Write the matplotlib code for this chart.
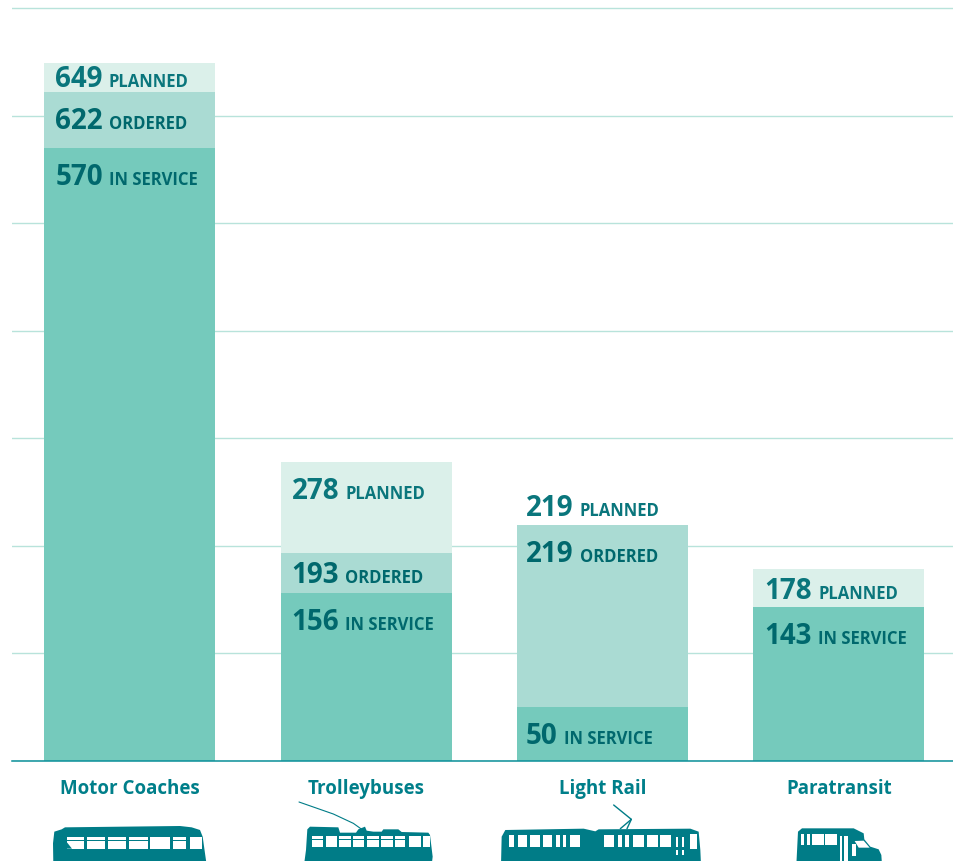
import numpy as np
import matplotlib
matplotlib.use('Agg')
import matplotlib.pyplot as plt
from matplotlib.patches import Polygon, Rectangle

plt.rcParams['font.family'] = ['Open Sans', 'DejaVu Sans']

categories = ['Motor Coaches', 'Trolleybuses', 'Light Rail', 'Paratransit']
in_service = [570, 156, 50, 143]
ordered = [622, 193, 219, np.nan]
planned = [649, 278, 219, 178]
grid_ticks = [0, 100, 200, 300, 400, 500, 600, 700]

# label baseline distance below the top of each bar segment, in pixels
service_drop = [37, 37, 37, 37]
ordered_drop = [37, 30, 37, 0]
planned_drop = [24, 37, -9, 30]
number_inset = [11, 11, 9, 11]

light = '#dbf0ea'
mid = '#aadbd3'
base = '#75cabc'
text_dark = '#00686d'
text_light = '#0a767c'
label_col = '#007f8a'
icon_col = '#007c87'

W, H = 954, 861
px = 0.72  # pixels to points at dpi 100
fig = plt.figure(figsize=(W / 100, H / 100), dpi=100)
base_y = 760.5
ax = fig.add_axes([12 / W, 1 - base_y / H, (W - 12) / W, base_y / H])

x = np.arange(len(categories))
ax.bar(x, planned, width=0.7236, color=light, zorder=2)
ax.bar(x, ordered, width=0.7236, color=mid, zorder=3)
ax.bar(x, in_service, width=0.7236, color=base, zorder=4)

ax.set_xlim(-0.499, 3.487)
ax.set_ylim(0, 707.8)
ax.set_yticks(grid_ticks)
ax.set_yticklabels([])
ax.grid(axis='y', color='#b8e3db', linewidth=1.0)
ax.set_axisbelow(True)
ax.set_xticks(x)
ax.set_xticklabels(categories, fontsize=13.5, fontweight='bold', color=label_col)
ax.tick_params(axis='both', length=0)
ax.tick_params(axis='x', pad=13)
for s in ['top', 'left', 'right']:
    ax.spines[s].set_visible(False)
ax.spines['bottom'].set_color('#0a8f99')
ax.spines['bottom'].set_linewidth(1.1)
ax.spines['bottom'].set_zorder(6)

renderer = fig.canvas.get_renderer()


def bar_label(i, value, word, drop, col):
    left = i - 0.7236 / 2
    num = ax.annotate(str(value), xy=(left, value), xytext=(number_inset[i] * px, -drop * px),
                      textcoords='offset points', fontsize=20, fontweight='bold',
                      color=col, va='baseline', ha='left', zorder=7)
    w = num.get_window_extent(renderer).width
    ax.annotate(word, xy=(left, value), xytext=((number_inset[i] + w + 6) * px, -drop * px),
                textcoords='offset points', fontsize=12, fontweight='bold',
                color=col, va='baseline', ha='left', zorder=7)


for i in range(len(categories)):
    bar_label(i, in_service[i], 'IN SERVICE', service_drop[i], text_dark)
    if not np.isnan(ordered[i]):
        bar_label(i, int(ordered[i]), 'ORDERED', ordered_drop[i], text_dark)
    bar_label(i, planned[i], 'PLANNED', planned_drop[i], text_light)

# vehicle silhouettes, traced in pixels of the page
ic = fig.add_axes([0, 0, 1, 1], zorder=10)
ic.set_xlim(0, W)
ic.set_ylim(H, 0)
ic.axis('off')
ic.patch.set_alpha(0)


def shape(points, off, color=icon_col):
    pts = [(off + a / 3, 740 + b / 3) for a, b in points]
    ic.add_patch(Polygon(pts, closed=True, facecolor=color, edgecolor='none'))


def windows(spans, top, bottom, off):
    for a, b in spans:
        ic.add_patch(Rectangle((off + a / 3, 740 + top / 3), (b - a) / 3, (bottom - top) / 3,
                               facecolor='white', edgecolor='none'))


def pole(points, off, lw=0.8):
    ic.plot([off + a / 3 for a, b in points], [740 + b / 3 for a, b in points],
            color=icon_col, lw=lw, solid_capstyle='round')


# motor coach
shape([(160, 375), (159, 310), (163, 275), (185, 268), (195, 262), (540, 258), (575, 262),
       (600, 270), (608, 290), (615, 340), (620, 375)], 0)
windows([(200, 252), (260, 315), (323, 378), (387, 443), (451, 510), (518, 557), (570, 605)], 292, 326, 0)
ic.add_patch(Polygon([(200 / 3, 740 + 306 / 3), (216 / 3, 740 + 326 / 3), (200 / 3, 740 + 326 / 3)],
                     facecolor=icon_col, edgecolor='none'))
for a, b in [(200, 252), (260, 315), (323, 378), (387, 443), (518, 557)]:
    ic.add_patch(Rectangle((a / 3, 740 + 300 / 3), (b - a) / 3, 1.2, facecolor=icon_col, edgecolor='none'))

# trolleybus
shape([(912, 375), (918, 330), (922, 268), (930, 260), (1015, 262), (1020, 278), (1068, 278),
       (1075, 268), (1095, 260), (1100, 272), (1120, 275), (1145, 275), (1150, 268), (1195, 268),
       (1205, 276), (1285, 278), (1290, 285), (1298, 350), (1295, 375)], 0)
windows([(936, 970), (977, 1010), (1017, 1052), (1058, 1093), (1100, 1136), (1143, 1178),
         (1185, 1215), (1228, 1262), (1268, 1290)], 288, 320, 0)
for a, b in [(936, 970), (1017, 1052), (1058, 1093), (1100, 1136), (1143, 1178), (1185, 1215)]:
    ic.add_patch(Rectangle((a / 3, 740 + 297 / 3), (b - a) / 3, 1.0, facecolor=icon_col, edgecolor='none'))
pole([(897, 186), (1000, 222), (1060, 250), (1095, 275)], 0)

# light rail
shape([(72, 375), (74, 290), (85, 270), (320, 266), (355, 274), (365, 268), (640, 266),
       (665, 275), (670, 330), (672, 375)], 477)
windows([(95, 110), (122, 150), (159, 188), (197, 226), (238, 250), (258, 268), (280, 310),
         (381, 412), (424, 436), (444, 456), (468, 500), (510, 543), (550, 583)], 285, 322, 477)
windows([(596, 604), (614, 622)], 292, 322, 477)
windows([(596, 604), (614, 622)], 330, 345, 477)
windows([(638, 660)], 282, 326, 477)
pole([(430, 266), (463, 238), (410, 195)], 477, lw=1.0)
pole([(450, 266), (463, 238)], 477, lw=1.0)

# paratransit
shape([(958, 375), (963, 275), (975, 265), (1130, 265), (1160, 280), (1162, 298), (1180, 320),
       (1205, 328), (1213, 345), (1215, 375)], 477)
windows([(973, 982), (990, 1000), (1006, 1040), (1044, 1080)], 282, 314, 477)
windows([(1090, 1096), (1102, 1113)], 288, 375, 477)
windows([(1126, 1136)], 312, 348, 477)
shape([(1133, 303), (1160, 302), (1178, 323), (1145, 323)], 477, color='white')

fig.savefig('out.png', dpi=100)
